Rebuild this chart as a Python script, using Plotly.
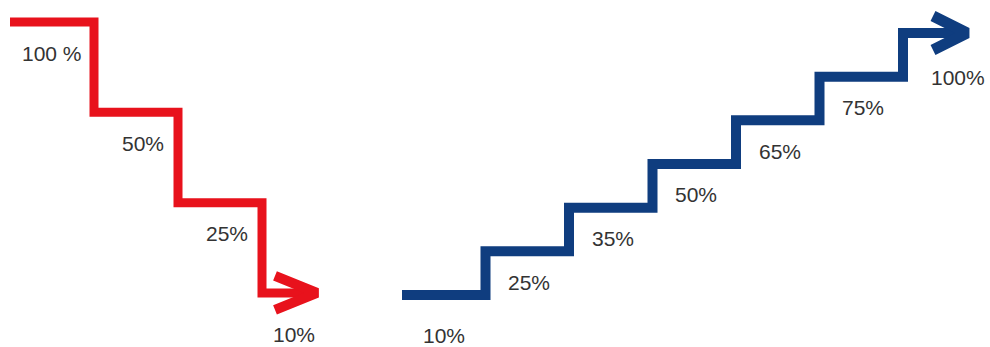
import plotly.graph_objects as go

# ---- data ----
red_labels = ["100 %", "50%", "25%", "10%"]
blue_labels = ["10%", "25%", "35%", "50%", "65%", "75%", "100%"]

# ---- styling / layout constants ----
W, H = 990, 347
RED = "#e8121c"
BLUE = "#0f3d7f"
TXT = "#333333"
FONT = "Liberation Sans, Arial, sans-serif"

# pixel geometry of each staircase (origin of step 0, step width, step height)
R_X0, R_DX, R_Y0, R_DY = 10, 84.0, 22, 90.33      # red goes down
B_X0, B_DX, B_Y0, B_DY = 402, 83.5, 295, 43.67    # blue goes up
R_TIP, B_TIP = 317, 967                            # arrow tip x (px)

fig = go.Figure()

def stairs(n, tip_u, xaxis, yaxis, color, width, dx_px, dy_px, arm_back, arm_half):
    xs = list(range(n)) + [tip_u - 6 / dx_px]
    ys = list(range(n)) + [n - 1]
    fig.add_trace(go.Scatter(x=xs, y=ys, mode="lines", line=dict(color=color, width=width, shape="hv"),
                             xaxis=xaxis, yaxis=yaxis, hoverinfo="skip", showlegend=False))
    back = arm_back / dx_px
    half = arm_half / dy_px
    fig.add_trace(go.Scatter(x=[tip_u - back, tip_u, tip_u - back],
                             y=[n - 1 - half, n - 1, n - 1 + half], mode="lines",
                             line=dict(color=color, width=width + 1),
                             xaxis=xaxis, yaxis=yaxis, hoverinfo="skip", showlegend=False))

nR = len(red_labels)
nB = len(blue_labels)
r_tip_u = (R_TIP - R_X0) / R_DX
b_tip_u = (B_TIP - B_X0) / B_DX
stairs(nR, r_tip_u, "x", "y", RED, 9, R_DX, R_DY, 42, 17)
stairs(nB, b_tip_u, "x2", "y2", BLUE, 10, B_DX, B_DY, 34, 17)

def add_labels(labels, tip_u, xref, yref, mid_xshift, first_shift, last_shift, last_xshift):
    n = len(labels)
    for i, lab in enumerate(labels):
        if i < n - 1:
            x = i + 0.5
        else:
            x = (n - 1 + tip_u) / 2
        ys = -31
        xs = mid_xshift
        if i == 0:
            ys = first_shift
            xs = 0
        if i == n - 1:
            ys = last_shift
            xs = last_xshift
        fig.add_annotation(x=x, y=i, xref=xref, yref=yref, text=lab, showarrow=False,
                           xanchor="center", yanchor="middle", yshift=ys, xshift=xs,
                           font=dict(family=FONT, size=21, color=TXT))

add_labels(red_labels, r_tip_u, "x", "y", 7, -31, -42, 4)
add_labels(blue_labels, b_tip_u, "x2", "y2", 2, -40, -45, 23)

ax = dict(visible=False, showgrid=False, zeroline=False, domain=[0, 1])
fig.update_layout(
    width=W, height=H, margin=dict(l=0, r=0, t=0, b=0),
    paper_bgcolor="white", plot_bgcolor="white",
    xaxis=dict(ax, range=[-R_X0 / R_DX, (W - R_X0) / R_DX]),
    yaxis=dict(ax, range=[(H - R_Y0) / R_DY, -R_Y0 / R_DY]),
    xaxis2=dict(ax, range=[-B_X0 / B_DX, (W - B_X0) / B_DX], overlaying="x"),
    yaxis2=dict(ax, range=[(B_Y0 - H) / B_DY, B_Y0 / B_DY], overlaying="y"),
)

fig.write_html("out.html", config={"displayModeBar": False, "staticPlot": True})

# remove the default page margin so the figure fills the window exactly
with open("out.html", encoding="utf-8") as f:
    html = f.read()
html = html.replace("<body>", '<body style="margin:0;overflow:hidden">', 1)
with open("out.html", "w", encoding="utf-8") as f:
    f.write(html)
